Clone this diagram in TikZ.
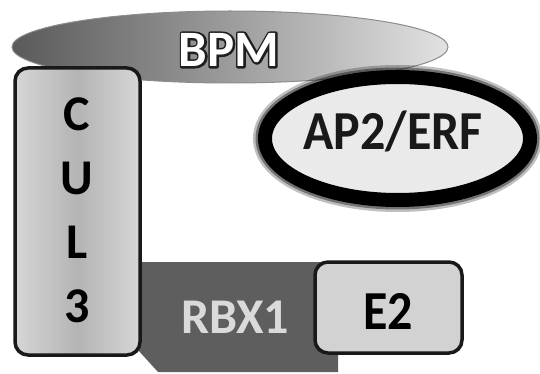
\documentclass[tikz,border=0pt]{standalone}
\usepackage{fontspec}
\setmainfont{Carlito}
\usepackage{graphicx}
\usetikzlibrary{shapes.geometric}
\definecolor{bpmdark}{HTML}{5A5A5A}
\definecolor{bpmmid}{HTML}{9C9C9C}
\definecolor{bpmlight}{HTML}{E2E2E2}
\definecolor{culedge}{HTML}{D6D6D6}
\definecolor{culmid}{HTML}{B4B4B4}
\definecolor{rbxgray}{HTML}{5E5E5E}
\definecolor{rbxtext}{HTML}{DADADA}
\definecolor{etwo}{HTML}{D2D2D2}
\definecolor{apfill}{HTML}{EAEAEA}
\newcommand{\strokedtext}[1]{\special{pdf:literal direct 0.12 G 0.12 g 4 w 1 j 2 Tr}#1\special{pdf:literal direct 0 Tr}}
\tikzset{
  bigtext/.style={font=\fontsize{50}{64}\selectfont\bfseries, inner sep=0pt},
  bpmfont/.style={font=\fontsize{51}{64}\selectfont\bfseries, inner sep=0pt},
  boxline/.style={draw=black!90, line width=3.5pt, rounded corners=13pt}
}
\begin{document}
\begin{tikzpicture}[x=1pt,y=-1pt]
\useasboundingbox (0,0) rectangle (540,374);
% BPM
\node[ellipse, draw=black!45, line width=1pt, minimum width=436pt, minimum height=72pt, inner sep=0pt,
      left color=bpmdark, right color=bpmlight, middle color=bpmmid] (bpm) at (230,47) {};
\node[bpmfont, text=black] (bpmo) at (229,50) {\strokedtext{BPM}};
\node[bpmfont, text=white] (bpmt) at (bpmo) {BPM};
% RBX1
\fill[rbxgray] (140,262) -- (338,262) -- (338,372) -- (158,372) -- (138,350) -- cycle;
\node[bigtext, text=rbxtext] (rbxt) at (235,317) {RBX1};
% CUL3
\node[boxline, minimum width=125pt, minimum height=287pt, inner sep=0pt,
      left color=culedge, right color=culedge, middle color=culmid] (cul) at (77.5,211.5) {};
\node[bigtext, align=center] (cult) at (77,210) {C\\U\\L\\3};
% E2
\node[boxline, minimum width=147pt, minimum height=91pt, inner sep=0pt, fill=etwo] (e2) at (388.5,307.5) {};
\node[bigtext] (e2t) at (388,311) {\scalebox{1}[1.1]{E2}};
% AP2/ERF
\draw[black, opacity=0.25, line width=24pt] (397.5,138.5) ellipse [x radius=132.5, y radius=61.5];
\draw[black, opacity=0.4, line width=19pt] (397.5,138.5) ellipse [x radius=132.5, y radius=61.5];
\node[ellipse, draw=black, line width=14pt, fill=apfill, minimum width=265pt, minimum height=123pt, inner sep=0pt] (ap) at (397.5,138.5) {};
\node[bigtext, text=black!90] (apt) at (393,131) {\scalebox{1}[1.1]{AP2/ERF}};
\end{tikzpicture}
\end{document}
